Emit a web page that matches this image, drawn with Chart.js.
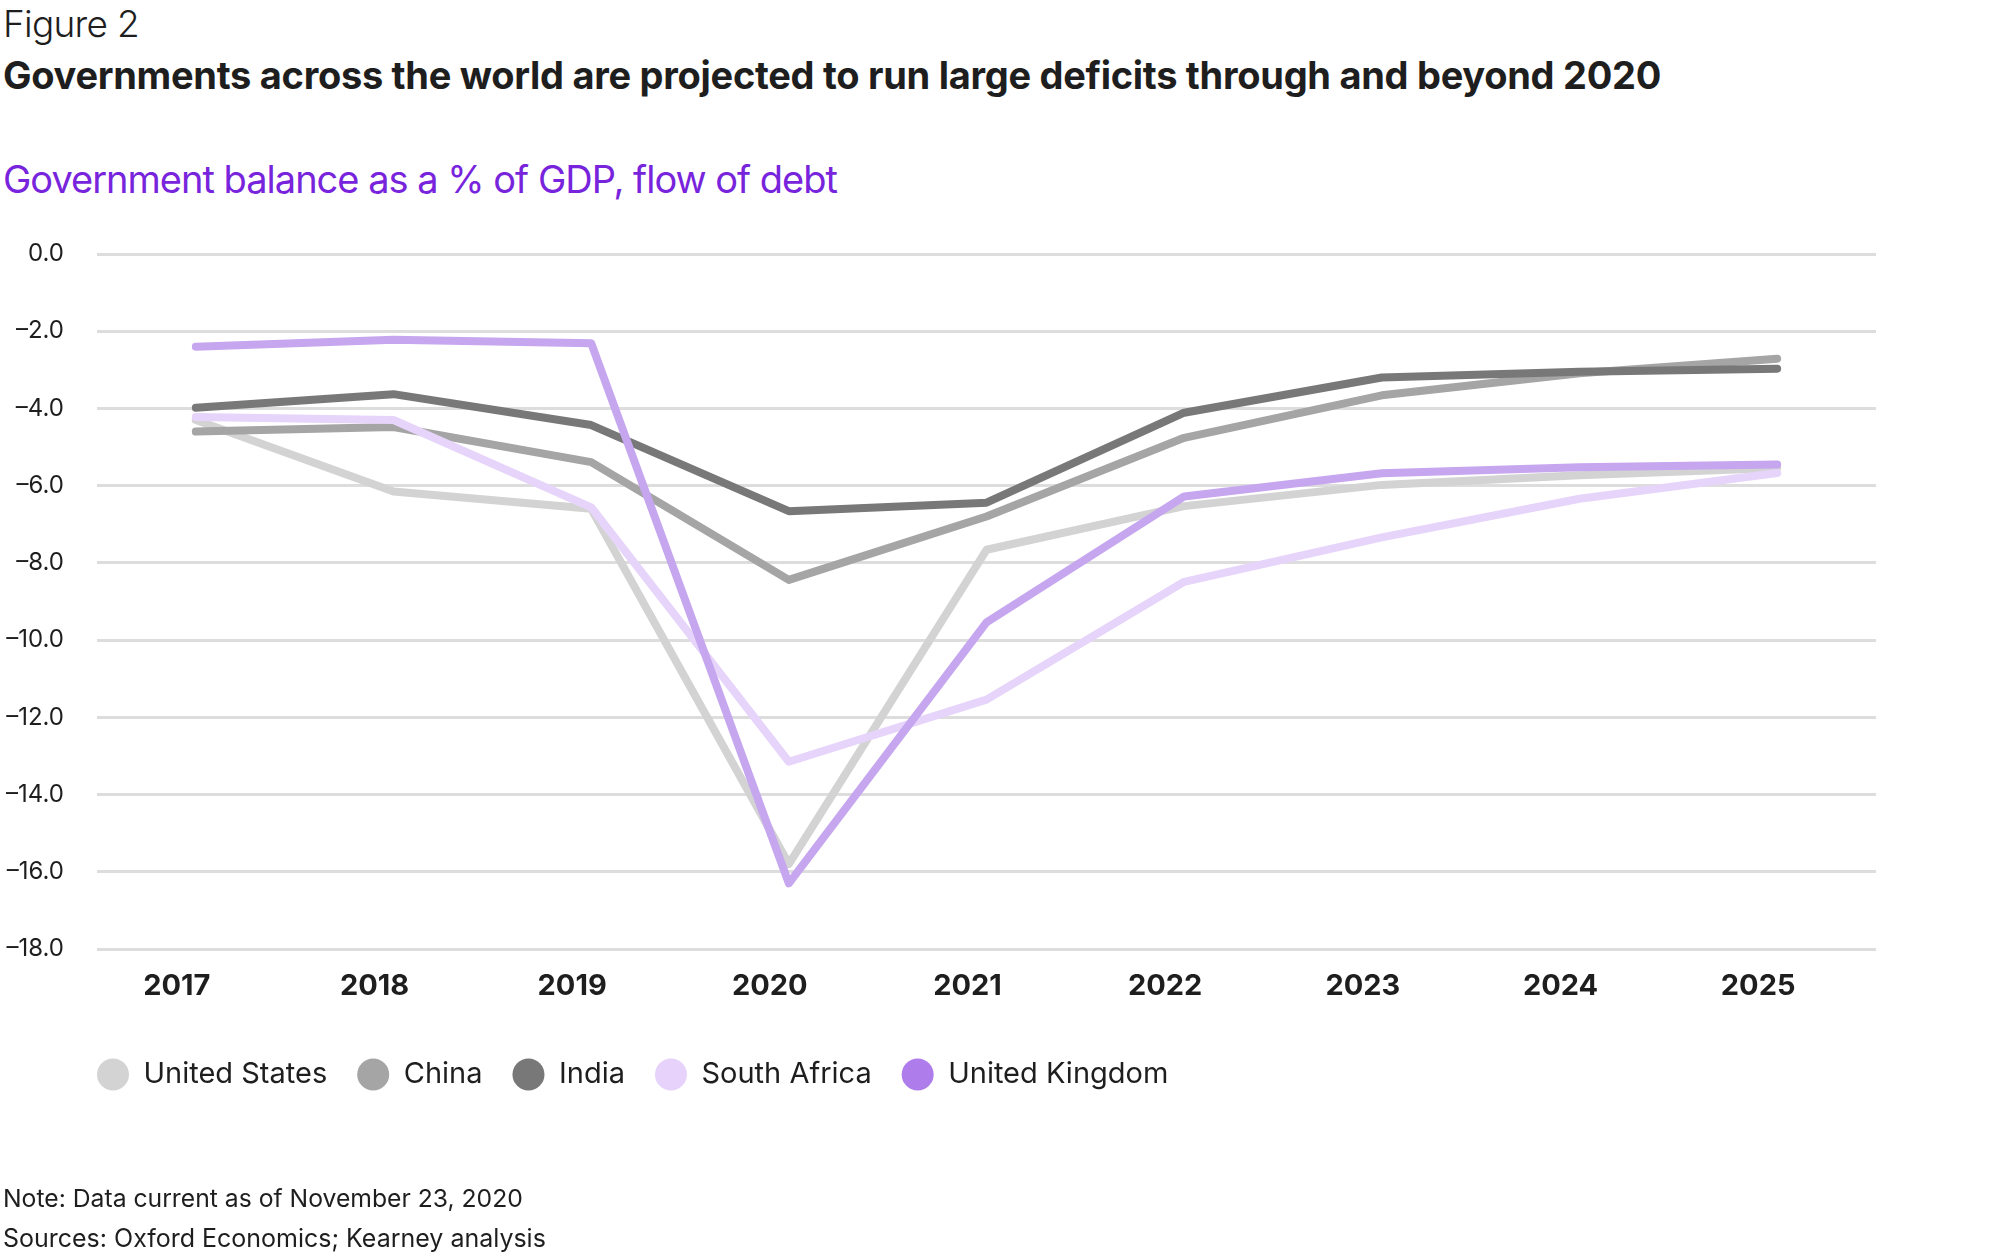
<!DOCTYPE html>
<html><head><meta charset="utf-8">
<script src="https://cdn.jsdelivr.net/npm/chart.js@4"></script>
<style>
html,body{margin:0;padding:0;background:#fff;}
body{width:2000px;height:1257px;position:relative;overflow:hidden;font-family:Inter,"Noto Sans",sans-serif;color:#1e1e1e;}
.t{position:absolute;left:3px;white-space:nowrap;line-height:1;margin:0;}
#fig{top:5px;font-size:37px;font-weight:300;}
#title{top:56px;font-size:38px;font-weight:700;}
#sub{top:160px;font-size:38px;font-weight:400;color:#7823DC;}
#note{top:1189px;font-size:21px;font-weight:400;}
#src{top:1230px;font-size:21px;font-weight:400;}
canvas{position:absolute;left:0;top:0;}
</style></head>
<body>
<div class="t" id="fig">Figure 2</div>
<div class="t" id="title">Governments across the world are projected to run large deficits through and beyond 2020</div>
<div class="t" id="sub">Government balance as a % of GDP, flow of debt</div>
<canvas id="c" width="2000" height="1257"></canvas>
<div class="t" id="note">Note: Data current as of November 23, 2020</div>
<div class="t" id="src">Sources: Oxford Economics; Kearney analysis</div>
<script>
const years = ['2017','2018','2019','2020','2021','2022','2023','2024','2025'];
const unitedStates = [-4.3, -6.15, -6.6, -15.8, -7.66, -6.53, -5.98, -5.73, -5.54];
const china = [-4.6, -4.48, -5.39, -8.44, -6.8, -4.76, -3.66, -3.09, -2.71];
const india = [-3.98, -3.63, -4.43, -6.66, -6.44, -4.11, -3.2, -3.05, -2.97];
const southAfrica = [-4.22, -4.3, -6.56, -13.15, -11.54, -8.49, -7.34, -6.34, -5.67];
const unitedKingdom = [-2.4, -2.22, -2.31, -16.3, -9.54, -6.28, -5.68, -5.52, -5.45];
const yTicks = [0, -2, -4, -6, -8, -10, -12, -14, -16, -18];

function fit(id, w){
  const el = document.getElementById(id);
  el.style.letterSpacing = '0px';
  const cur = el.getBoundingClientRect().width;
  const n = el.textContent.length;
  el.style.letterSpacing = ((w - cur) / n) + 'px';
}
function fitSize(id, w, baseline){
  const el = document.getElementById(id);
  const fs = parseFloat(getComputedStyle(el).fontSize);
  const cur = el.getBoundingClientRect().width;
  const nfs = fs * w / cur;
  el.style.fontSize = nfs + 'px';
  el.style.top = (baseline - 0.864 * nfs) + 'px';
}
fit('fig', 136); fit('title', 1658); fit('sub', 834);
fitSize('note', 520, 1207); fitSize('src', 543, 1248);

function ds(label, data, line, dot, order){
  return {label, data, borderColor: line, backgroundColor: dot, pointBackgroundColor: dot,
    pointBorderWidth: 0, pointRadius: 0, pointHoverRadius: 0, borderWidth: 8,
    tension: 0, borderCapStyle: 'round', borderJoinStyle: 'round', fill: false, order};
}

const shiftLegend = {
  id: 'shiftLegend',
  afterLayout(chart){ if (chart.legend) { chart.legend.left = 67; } }
};

new Chart(document.getElementById('c'), {
  type: 'line',
  data: {
    labels: years,
    datasets: [
      ds('United States', unitedStates, '#d3d3d3', '#d3d3d3', 4),
      ds('China', china, '#a5a5a5', '#a5a5a5', 3),
      ds('India', india, '#787878', '#787878', 2),
      ds('South Africa', southAfrica, '#e7d4fa', '#e6d2fa', 1),
      ds('United Kingdom', unitedKingdom, '#c6a6ef', '#af7deb', 0)
    ]
  },
  plugins: [shiftLegend],
  options: {
    responsive: false, devicePixelRatio: 1, animation: false,
    layout: {padding: {left: 0, right: 124, top: 254, bottom: 158}},
    plugins: {
      legend: {position: 'bottom', align: 'start',
        labels: {usePointStyle: true, pointStyle: 'circle', pointStyleWidth: 32, boxHeight: 22.6,
          padding: 30, color: '#1e1e1e', font: {family: 'Inter', size: 29},
          sort: (a, b) => a.datasetIndex - b.datasetIndex}},
      tooltip: {enabled: false}
    },
    scales: {
      x: {offset: true, grid: {display: false, drawTicks: false}, border: {display: false},
        ticks: {padding: 20, labelOffset: -19, color: '#1e1e1e', font: {family: 'Inter', size: 29, weight: 'bold'}},
        afterFit(s){ s.height = 81; }},
      y: {min: -18, max: 0, border: {display: false},
        grid: {color: '#dddddd', lineWidth: 3, drawTicks: false},
        afterBuildTicks(s){ s.ticks = yTicks.map(v => ({value: v})); },
        ticks: {padding: 33, color: '#1e1e1e', font: {family: 'Inter', size: 24},
          callback: v => (v < 0 ? '\u2013' : '') + Math.abs(v).toFixed(1)},
        afterFit(s){ s.width = 97; }}
    }
  }
});
</script>
</body></html>
